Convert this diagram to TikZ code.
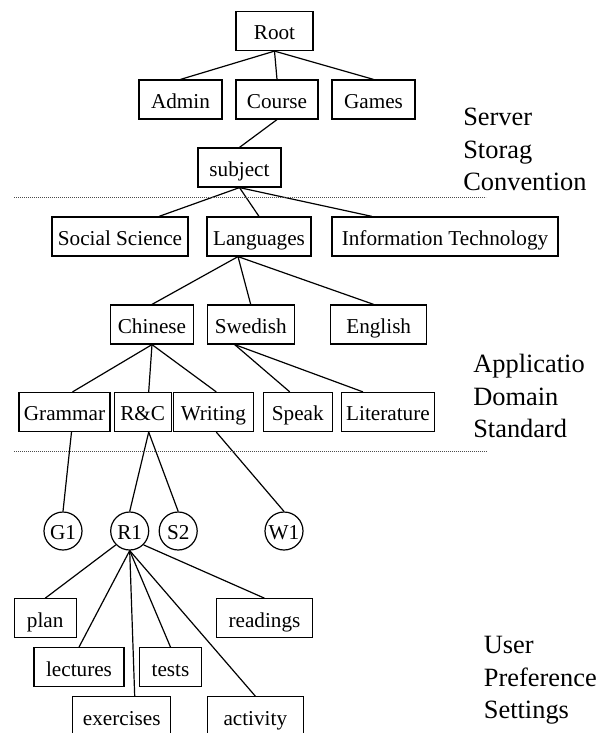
\documentclass[tikz,border=0pt]{standalone}
\usepackage{fontspec}
\setmainfont{Liberation Serif}
\usetikzlibrary{calc}

\tikzset{every picture/.style={line width=0.9pt}}
\tikzset{
  dirbox/.style={draw, rectangle, inner sep=0pt, minimum height=29.25pt, minimum width=#1*0.75pt,
    text height=13.6pt, text depth=0.4pt, font=\fontsize{15.9}{18}\selectfont},
  topic/.style={draw, circle, inner sep=0pt, minimum size=28.5pt,
    text height=13.6pt, text depth=0.4pt, font=\fontsize{15.9}{18}\selectfont},
  layer/.style={anchor=north west, inner sep=0pt, align=left, font=\fontsize{19.8}{24.4}\selectfont},
  sep/.style={line width=0.6pt, black!70, dash pattern=on 0.6pt off 0.9pt}
}

\begin{document}
\begin{tikzpicture}[x=0.75pt,y=0.75pt,yscale=-1,xscale=1]
\useasboundingbox (0,0) rectangle (603,733);

% Server storage convention
\node[dirbox=77] (root) at (274.5,31) {Root};
\node[dirbox=83] (admin) at (180.5,99.5) {Admin};
\node[dirbox=82] (course) at (277,99.5) {Course};
\node[dirbox=83] (games) at (373.5,99.5) {Games};
\node[dirbox=83] (subject) at (239.5,167.5) {subject};

% Application domain standard
\node[dirbox=136] (social) at (120,236.5) {Social Science};
\node[dirbox=104] (lang) at (259,236.5) {Languages};
\node[dirbox=226] (infotech) at (445,236.5) {Information Technology};
\node[dirbox=83] (chinese) at (152,324.5) {Chinese};
\node[dirbox=87] (swedish) at (250.7,324.5) {Swedish};
\node[dirbox=96] (english) at (378.7,324.5) {English};
\node[dirbox=91] (grammar) at (64.5,412) {Grammar};
\node[dirbox=57] (rc) at (142.7,412) {R\&C};
\node[dirbox=80] (writing) at (213.3,412) {Writing};
\node[dirbox=69] (speak) at (297.8,412) {Speak};
\node[dirbox=93] (literature) at (388,412) {Literature};

% User preference settings
\node[topic] (g1) at (63,531) {G1};
\node[topic] (r1) at (129.7,531) {R1};
\node[topic] (s2) at (178.2,531) {S2};
\node[topic] (w1) at (284,531) {W1};
\node[dirbox=62] (plan) at (45.2,618.3) {plan};
\node[dirbox=96] (readings) at (264.5,618.3) {readings};
\node[dirbox=90] (lectures) at (79,667.2) {lectures};
\node[dirbox=62] (tests) at (170.5,667.2) {tests};
\node[dirbox=98] (exercises) at (121.7,716.2) {exercises};
\node[dirbox=96] (activity) at (255.3,716.2) {activity};

%Straight Lines
\draw (root.south) -- (admin.north);
\draw (root.south) -- (course.north);
\draw (root.south) -- (games.north);
\draw (course.south) -- (subject.north);
\draw (subject.south) -- ($(social.north)+(39,0)$);
\draw (subject.south) -- (lang.north);
\draw (subject.south) -- ($(infotech.north)+(-73,0)$);
\draw ($(lang.south)+(-21,0)$) -- (chinese.north);
\draw ($(lang.south)+(-21,0)$) -- (swedish.north);
\draw ($(lang.south)+(-21,0)$) -- ($(english.north)+(-5,0)$);
\draw (chinese.south) -- ($(grammar.north)+(8,0)$);
\draw (chinese.south) -- ($(rc.north)+(6,0)$);
\draw (chinese.south) -- ($(writing.north)+(3,0)$);
\draw ($(swedish.south)+(-16,0)$) -- ($(speak.north)+(-8,0)$);
\draw ($(swedish.south)+(-16,0)$) -- ($(literature.north)+(-25,0)$);
\draw ($(grammar.south)+(7,0)$) -- (g1.north);
\draw ($(rc.south)+(6,0)$) -- (r1.north);
\draw ($(rc.south)+(6,0)$) -- (s2.north);
\draw ($(writing.south)+(3,0)$) -- (w1.north);
\draw (r1.south west) -- (plan.north);
\draw (r1.south) -- (lectures.north);
\draw (r1.south) -- ($(exercises.north)+(13,0)$);
\draw (r1.south) -- (tests.north);
\draw (r1.south) -- (activity.north);
\draw (r1.south east) -- (readings.north);

%Dotted separators
\draw[sep] (14,197.3) -- (486,197.3);
\draw[sep] (14,451.7) -- (486.7,451.7);

% Text Node
\node[layer] (server) at (462.7,107.5) {Server\\Storag\\Convention};
% Text Node
\node[layer] (appdomain) at (472.7,354) {Applicatio\\Domain\\Standard};
% Text Node
\node[layer] (userpref) at (483.3,636) {User\\Preference\\Settings};

\end{tikzpicture}
\end{document}
